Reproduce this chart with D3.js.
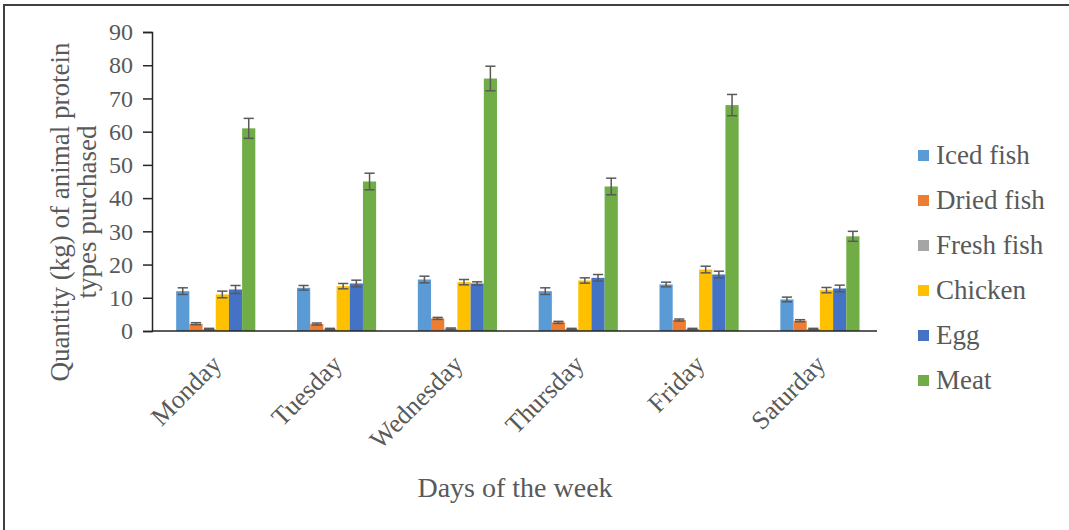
<!DOCTYPE html>
<html>
<head>
<meta charset="utf-8">
<script src="https://cdn.jsdelivr.net/npm/d3@7"></script>
<style>
  body { margin: 0; background: #fff; }
  text { font-family: "Liberation Serif", "Times New Roman", serif; fill: #595959; }
</style>
</head>
<body>
<div id="chart"></div>
<script>
const days = ["Monday", "Tuesday", "Wednesday", "Thursday", "Friday", "Saturday"];
const series = ["Iced fish", "Dried fish", "Fresh fish", "Chicken", "Egg", "Meat"];
const colors = ["#5b9bd5", "#ed7d31", "#a5a5a5", "#ffc000", "#4472c4", "#70ad47"];

// means per series, one per day
const icedFish  = [12, 13, 15.5, 12, 14, 9.5];
const driedFish = [2.2, 2.1, 3.8, 2.6, 3.3, 3.1];
const freshFish = [0.6, 0.6, 0.7, 0.6, 0.6, 0.6];
const chicken   = [11, 13.5, 14.7, 15.2, 18.5, 12.3];
const egg       = [12.5, 14.3, 14.3, 16, 17, 12.8];
const meat      = [61, 45, 76, 43.5, 68, 28.5];

// standard errors
const icedFishErr  = [1, 0.7, 1, 1, 0.7, 0.7];
const driedFishErr = [0.3, 0.3, 0.3, 0.3, 0.3, 0.3];
const freshFishErr = [0.2, 0.2, 0.2, 0.2, 0.2, 0.2];
const chickenErr   = [1, 0.8, 0.8, 0.8, 1, 0.8];
const eggErr       = [1.2, 1, 0.5, 1, 1, 1];
const meatErr      = [3, 2.5, 3.7, 2.5, 3.2, 1.5];

const yTicks = [0, 10, 20, 30, 40, 50, 60, 70, 80, 90];

const values = [icedFish, driedFish, freshFish, chicken, egg, meat];
const errors = [icedFishErr, driedFishErr, freshFishErr, chickenErr, eggErr, meatErr];

const rows = [];
days.forEach((day, i) => {
  series.forEach((s, j) => {
    rows.push({ day: day, series: s, value: values[j][i], err: errors[j][i], color: colors[j] });
  });
});

const W = 1069, H = 530;
const svg = d3.select("#chart").append("svg")
  .attr("width", W).attr("height", H);

// outer frame (only left and top visible in the crop)
svg.append("rect")
  .attr("x", 4).attr("y", 5)
  .attr("width", W + 10).attr("height", H + 10)
  .attr("fill", "none").attr("stroke", "#404040").attr("stroke-width", 2);

const plot = { left: 152, right: 877, top: 32, bottom: 331 };

const y = d3.scaleLinear().domain([0, 90]).range([plot.bottom, plot.top]);
const x0 = d3.scaleBand().domain(days).range([plot.left, plot.right]);
const bw = x0.bandwidth();
const x1 = d3.scaleBand().domain(series).range([bw * 0.2, bw * 0.855]);

// y axis
const yAxis = svg.append("g")
  .attr("transform", `translate(${plot.left},0)`)
  .call(d3.axisLeft(y).tickValues(yTicks).tickSize(9).tickPadding(10));
yAxis.selectAll("text").style("font-size", "24px").attr("fill", "#595959");
yAxis.selectAll("line, path").attr("stroke", "#262626").attr("stroke-width", 1.5);

// bars
svg.append("g").selectAll("rect")
  .data(rows)
  .join("rect")
  .attr("x", d => x0(d.day) + x1(d.series))
  .attr("y", d => y(d.value))
  .attr("width", x1.bandwidth())
  .attr("height", d => y(0) - y(d.value))
  .attr("fill", d => d.color);

// error bars
const eb = svg.append("g").attr("stroke", "#595959").attr("stroke-width", 1.5);
const capW = x1.bandwidth() - 3;
rows.forEach(d => {
  const cx = x0(d.day) + x1(d.series) + x1.bandwidth() / 2;
  const yHi = y(d.value + d.err), yLo = y(d.value - d.err);
  eb.append("line").attr("x1", cx).attr("x2", cx).attr("y1", yHi).attr("y2", yLo);
  eb.append("line").attr("x1", cx - capW / 2).attr("x2", cx + capW / 2).attr("y1", yHi).attr("y2", yHi);
  eb.append("line").attr("x1", cx - capW / 2).attr("x2", cx + capW / 2).attr("y1", yLo).attr("y2", yLo);
});

// x axis line
svg.append("line")
  .attr("x1", plot.left).attr("x2", plot.right)
  .attr("y1", plot.bottom).attr("y2", plot.bottom)
  .attr("stroke", "#262626").attr("stroke-width", 1.5);

// x labels, rotated
svg.append("g").selectAll("text")
  .data(days)
  .join("text")
  .attr("transform", d => `translate(${x0(d) + bw * 0.48},${plot.bottom + 22}) rotate(-45)`)
  .attr("text-anchor", "end")
  .attr("dy", "0.7em")
  .style("font-size", "26px")
  .text(d => d);

// axis titles
svg.append("text")
  .attr("x", 515).attr("y", 497)
  .attr("text-anchor", "middle")
  .style("font-size", "28px")
  .text("Days of the week");

const yTitle = svg.append("text")
  .attr("transform", "translate(0,212) rotate(-90)")
  .attr("text-anchor", "middle")
  .style("font-size", "27px");
yTitle.append("tspan").attr("x", 0).attr("y", 69).text("Quantity (kg) of animal protein");
yTitle.append("tspan").attr("x", 0).attr("y", 96).text("types purchased");

// legend
const legend = svg.append("g").selectAll("g")
  .data(series)
  .join("g")
  .attr("transform", (d, i) => `translate(918,${155 + i * 45})`);
legend.append("rect")
  .attr("x", 0).attr("y", -5).attr("width", 11).attr("height", 11)
  .attr("fill", (d, i) => colors[i]);
legend.append("text")
  .attr("x", 18).attr("y", 0).attr("dy", "0.35em")
  .style("font-size", "27px")
  .text(d => d);
</script>
</body>
</html>
